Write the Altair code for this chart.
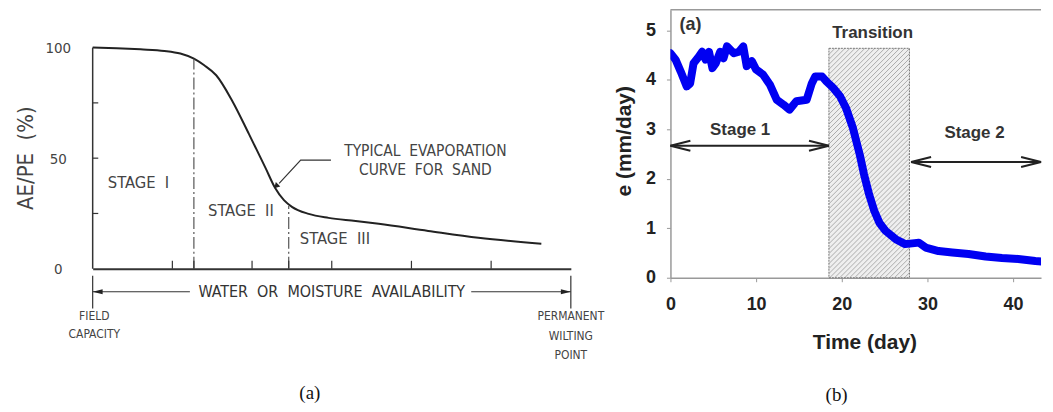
import altair as alt
import pandas as pd

# ---------------- Panel (a) data ----------------
a_x = [0, 0.3, 0.6, 0.9, 1.1, 1.27, 1.4, 1.55, 1.75, 1.96, 2.17, 2.29, 2.40, 2.5, 2.71, 2.96, 3.3, 3.59, 4.21, 4.84, 5.63]
a_y = [100, 99.7, 99.2, 98.5, 97.3, 95, 92, 87.5, 76, 61, 45.5, 36.5, 31, 28, 24.8, 23, 21.6, 20.3, 17.1, 14, 11.3]
a_stage_x = [1.27, 2.46]
a_stage_top = [95, 28.5]
a_xticks = [1, 1.27, 2, 2.46, 3, 4, 5]
a_yticks = [25, 50, 75]
a_ylabels = [0, 50, 100]
a_stage_labels = ["STAGE\u00a0\u00a0I", "STAGE\u00a0\u00a0II", "STAGE\u00a0\u00a0III"]
a_stage_lx = [0.575, 1.86, 3.04]
a_stage_ly = [38.7, 26.1, 13.5]

# ---------------- Panel (b) data ----------------
b_t = [0, 0.6, 1.2, 1.9, 2.3, 2.7, 3.3, 3.7, 4.1, 4.5, 4.9, 5.3, 5.8, 6.2, 6.6, 7.4, 8.0, 8.5, 8.9, 9.5,
       10.0, 10.8, 11.6, 12.4, 13.2, 13.9, 14.7, 15.9, 16.5, 16.9, 17.7, 18.2, 19.0, 19.8, 20.5, 21.3, 22.1, 22.6, 23.2, 23.8,
       24.4, 25.1, 26.3, 27.4, 28.5, 29.0, 29.8, 31.3, 32.9, 34.8, 36.8, 38.7, 40.6, 42.6, 43.3]
b_e = [4.54, 4.41, 4.17, 3.87, 3.93, 4.34, 4.47, 4.57, 4.41, 4.57, 4.24, 4.34, 4.57, 4.44, 4.68, 4.54, 4.57, 4.68, 4.28, 4.38,
       4.21, 4.11, 3.91, 3.60, 3.50, 3.40, 3.57, 3.60, 3.93, 4.07, 4.07, 3.97, 3.84, 3.67, 3.43, 3.03, 2.49, 2.09, 1.68, 1.35,
       1.11, 0.95, 0.78, 0.68, 0.70, 0.71, 0.61, 0.54, 0.51, 0.48, 0.43, 0.40, 0.38, 0.34, 0.33]
b_xticks = [0, 10, 20, 30, 40]
b_yticks = [0, 1, 2, 3, 4, 5]
b_trans = [18.5, 27.9, 4.64]   # start day, end day, top

SANS_A = "Liberation Sans Narrow, DejaVu Sans Condensed, Liberation Sans"
SANS_B = "Liberation Sans"
SERIF = "Liberation Serif"

# ---------------- Panel (a) ----------------
W_A, H_A = 480, 260
xs_a = alt.Scale(domain=[0, 6], nice=False, zero=False)
ys_a = alt.Scale(domain=[0, 117.1], nice=False, zero=False)
AX_A = alt.Axis(domain=True, domainColor="#333", domainWidth=2, ticks=False, labels=False, grid=False, title=None)
AY_A = alt.Axis(values=a_ylabels, domain=False, ticks=False, tickSize=0, grid=False, title=None,
                labelAlign="center", labelPadding=35, labelFontSize=15, labelColor="#444", labelFont=SANS_A)


def XA(f="x"):
    return alt.X(f"{f}:Q", scale=xs_a, axis=AX_A)


def YA(f="y"):
    return alt.Y(f"{f}:Q", scale=ys_a, axis=AY_A)


curve_a = alt.Chart(pd.DataFrame({"x": a_x, "y": a_y})).mark_line(
    color="#222", strokeWidth=2, interpolate="monotone").encode(x=XA(), y=YA())

stage_lines = alt.Chart(pd.DataFrame({"x": a_stage_x, "y0": [0, 0], "y1": a_stage_top})).mark_rule(
    color="#555", strokeWidth=1.2, strokeDash=[12, 3, 2, 3]).encode(x=XA(), y=YA("y0"), y2="y1")

left_line = alt.Chart(pd.DataFrame({"x": [0], "y0": [0], "y1": [100]})).mark_rule(
    color="#333", strokeWidth=1.5).encode(x=XA(), y=YA("y0"), y2="y1")

ytick_a = alt.Chart(pd.DataFrame({"x0": [0] * 3, "x1": [0.07] * 3, "y": a_yticks})).mark_rule(
    color="#333", strokeWidth=1.2).encode(x=XA("x0"), x2="x1", y=YA())

xtick_a = alt.Chart(pd.DataFrame({"x": a_xticks, "y0": [0] * 7, "y1": [3.6] * 7})).mark_rule(
    color="#333", strokeWidth=1.2).encode(x=XA(), y=YA("y0"), y2="y1")

stage_text = alt.Chart(pd.DataFrame({"x": a_stage_lx, "y": a_stage_ly, "t": a_stage_labels})).mark_text(
    font=SANS_A, fontSize=16.5, color="#444").encode(x=XA(), y=YA(), text="t:N")

anno_text = alt.Chart(pd.DataFrame({"x": [4.175, 4.175], "y": [53.4, 44.5],
                                    "t": ["TYPICAL\u00a0\u00a0EVAPORATION", "CURVE\u00a0\u00a0FOR\u00a0\u00a0SAND"]})).mark_text(
    font=SANS_A, fontSize=15.5, color="#444").encode(x=XA(), y=YA(), text="t:N")

leader = alt.Chart(pd.DataFrame({"x": [2.99, 2.61, 2.34], "y": [49.1, 49.1, 38.6], "o": [0, 1, 2]})).mark_line(
    color="#333", strokeWidth=1.2).encode(x=XA(), y=YA(), order="o:Q")

leader_head = alt.Chart(pd.DataFrame({"x": [2.31], "y": [37.6]})).mark_point(
    shape="triangle", angle=225, size=40, filled=True, color="#222", opacity=1).encode(x=XA(), y=YA())

arrow_y = -10.4
arrow_seg = alt.Chart(pd.DataFrame({"x0": [0, 4.75], "x1": [1.22, 6], "y": [arrow_y, arrow_y]})).mark_rule(
    color="#333", strokeWidth=1.2).encode(x=XA("x0"), x2="x1", y=YA())

arrow_heads = alt.Chart(pd.DataFrame({"x": [0, 6], "y": [arrow_y, arrow_y],
                                      "p": ["M0,0L2,-0.5L2,0.5Z", "M0,0L-2,-0.5L-2,0.5Z"]})).mark_point(
    filled=True, size=100, color="#222", opacity=1).encode(x=XA(), y=YA(), shape=alt.Shape("p:N", scale=None))

end_marks = alt.Chart(pd.DataFrame({"x": [0, 6], "y0": [-3.2, -3.2], "y1": [-18, -18]})).mark_rule(
    color="#333", strokeWidth=1.2).encode(x=XA(), y=YA("y0"), y2="y1")

axis_text = alt.Chart(pd.DataFrame({"x": [3.0], "y": [arrow_y],
                                    "t": ["WATER\u00a0\u00a0OR\u00a0\u00a0MOISTURE\u00a0\u00a0AVAILABILITY"]})).mark_text(
    font=SANS_A, fontSize=16, color="#333").encode(x=XA(), y=YA(), text="t:N")

end_text = alt.Chart(pd.DataFrame({"x": [0.02, 0.02, 6, 6, 6],
                                   "y": [-21.2, -29.3, -21.2, -30.2, -39.2],
                                   "t": ["FIELD", "CAPACITY", "PERMANENT", "WILTING", "POINT"]})).mark_text(
    font=SANS_A, fontSize=12, color="#444").encode(x=XA(), y=YA(), text="t:N")

ytitle_a = alt.Chart(pd.DataFrame({"y": [50], "t": ["AE/PE\u00a0\u00a0(%)"]})).mark_text(
    font=SANS_A, fontSize=22, color="#444", angle=270).encode(x=alt.value(-67), y=YA(), text="t:N")

cap_a = alt.Chart(pd.DataFrame({"x": [2.725], "y": [-56.3], "t": ["(a)"]})).mark_text(
    font=SERIF, fontSize=19, color="#111").encode(x=XA(), y=YA(), text="t:N")

anchor_a = alt.Chart(pd.DataFrame({"y": [50]})).mark_rule(strokeOpacity=0, opacity=0).encode(
    x=alt.value(-85), x2=alt.value(-84), y=YA())

panel_a = alt.layer(curve_a, stage_lines, left_line, ytick_a, xtick_a, stage_text, anno_text, leader,
                    leader_head, arrow_seg, arrow_heads, end_marks, axis_text, end_text, ytitle_a, cap_a,
                    anchor_a).properties(width=W_A, height=H_A)

# ---------------- Panel (b) ----------------
W_B, H_B = 372, 269
XB_MAX, YB_MAX = 43.26, 5.42
xs_b = alt.Scale(domain=[0, XB_MAX], nice=False, zero=False)
ys_b = alt.Scale(domain=[0, YB_MAX], nice=False, zero=False)
AX_B = alt.Axis(values=b_xticks, domainColor="#999", domainWidth=1.5, tickColor="#999", tickSize=4,
                labelFont=SANS_B, labelFontWeight="bold", labelFontSize=18, labelColor="#222",
                labelPadding=14, grid=False, title=None, labelFlush=False)
AY_B = alt.Axis(values=b_yticks, domainColor="#999", domainWidth=1.5, tickColor="#999", tickSize=4,
                labelFont=SANS_B, labelFontWeight="bold", labelFontSize=18, labelColor="#222",
                labelPadding=11, grid=False, title=None, labelFlush=False)


def XB(f="x"):
    return alt.X(f"{f}:Q", scale=xs_b, axis=AX_B)


def YB(f="y"):
    return alt.Y(f"{f}:Q", scale=ys_b, axis=AY_B)


# hatch pattern for the transition box (fill decoration, derived from the box bounds)
pxd = W_B / XB_MAX
pye = H_B / YB_MAX
u0, u1, hh = b_trans[0] * pxd, b_trans[1] * pxd, b_trans[2] * pye
rows = []
c = -u1
while c < hh - u0:
    lo = max(u0, -c)
    hi = min(u1, hh - c)
    if hi > lo:
        rows.append({"x0": lo / pxd, "y0": (lo + c) / pye, "x1": hi / pxd, "y1": (hi + c) / pye})
    c += 5
hatch_df = pd.DataFrame(rows)

box_df = pd.DataFrame({"x0": [b_trans[0]], "x1": [b_trans[1]], "y0": [0], "y1": [b_trans[2]]})
box_fill = alt.Chart(box_df).mark_rect(color="#efefef").encode(x=XB("x0"), x2="x1", y=YB("y0"), y2="y1")
hatch = alt.Chart(hatch_df).mark_rule(color="#9a9a9a", strokeWidth=0.8).encode(
    x=XB("x0"), x2="x1", y=YB("y0"), y2="y1")
box_edge = alt.Chart(box_df).mark_rect(fill=None, filled=False, stroke="#777", strokeWidth=1,
                                       strokeDash=[2, 1]).encode(x=XB("x0"), x2="x1", y=YB("y0"), y2="y1")

top_border = alt.Chart(pd.DataFrame({"x0": [0], "x1": [XB_MAX], "y": [YB_MAX]})).mark_rule(
    color="#999", strokeWidth=1.5).encode(x=XB("x0"), x2="x1", y=YB())

curve_b = alt.Chart(pd.DataFrame({"x": b_t, "y": b_e})).mark_line(
    color="#0000f2", strokeWidth=8, strokeJoin="round", strokeCap="round", clip=True).encode(x=XB(), y=YB())

arr_b = alt.Chart(pd.DataFrame({"x0": [0, 28.1], "x1": [18.5, XB_MAX], "y": [2.67, 2.34]})).mark_rule(
    color="#222", strokeWidth=2).encode(x=XB("x0"), x2="x1", y=YB())
heads_b = alt.Chart(pd.DataFrame({"x": [0, 18.5, 28.1, XB_MAX], "y": [2.67, 2.67, 2.34, 2.34],
                                  "p": ["M2,-0.5L0,0L2,0.5", "M-2,-0.5L0,0L-2,0.5",
                                        "M2,-0.5L0,0L2,0.5", "M-2,-0.5L0,0L-2,0.5"]})).mark_point(
    filled=False, size=400, color="#222", strokeWidth=2, opacity=1).encode(
    x=XB(), y=YB(), shape=alt.Shape("p:N", scale=None))

text_b = alt.Chart(pd.DataFrame({"x": [2.33, 23.6, 8.14, 35.5], "y": [5.12, 4.94, 2.98, 2.92],
                                 "t": ["(a)", "Transition", "Stage 1", "Stage 2"],
                                 "s": [18, 17, 17, 17]})).mark_text(
    font=SANS_B, fontWeight="bold", color="#333").encode(
    x=XB(), y=YB(), text="t:N", size=alt.Size("s:Q", scale=None))

xtitle_b = alt.Chart(pd.DataFrame({"x": [22.7], "t": ["Time (day)"]})).mark_text(
    font=SANS_B, fontWeight="bold", fontSize=21, color="#222").encode(x=XB(), y=alt.value(335), text="t:N")
ytitle_b = alt.Chart(pd.DataFrame({"y": [2.76], "t": ["e (mm/day)"]})).mark_text(
    font=SANS_B, fontWeight="bold", fontSize=21, color="#222", angle=270).encode(
    x=alt.value(-46), y=YB(), text="t:N")
cap_b = alt.Chart(pd.DataFrame({"x": [19.4], "t": ["(b)"]})).mark_text(
    font=SERIF, fontSize=19, color="#111").encode(x=XB(), y=alt.value(387), text="t:N")

panel_b = alt.layer(box_fill, hatch, box_edge, top_border, curve_b, arr_b, heads_b, text_b,
                    xtitle_b, ytitle_b, cap_b).properties(width=W_B, height=H_B)

chart = alt.hconcat(panel_a, panel_b, spacing=100, bounds="flush").properties(
    padding=0).configure_view(stroke=None)

chart.save("out.html", embed_options={"renderer": "svg", "actions": False})
